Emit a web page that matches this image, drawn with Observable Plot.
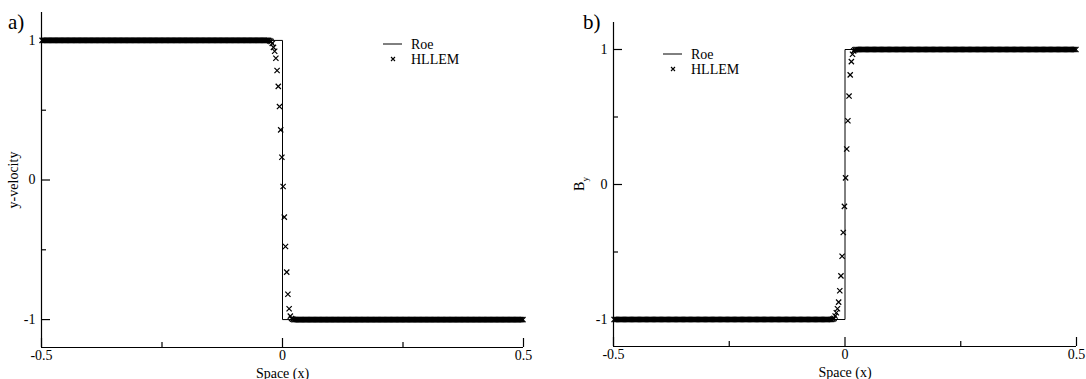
<!DOCTYPE html>
<html><head><meta charset="utf-8">
<script src="https://cdn.jsdelivr.net/npm/d3@7"></script>
<script src="https://cdn.jsdelivr.net/npm/@observablehq/plot@0.6"></script>
<style>
body{margin:0;background:#fff;}
#wrap{position:relative;width:1086px;height:379px;overflow:hidden;background:#fff;}
#wrap svg{position:absolute;top:0;overflow:visible;}
</style></head>
<body><div id="wrap"></div>
<script>
// ---- data ----
const cellCount = 400; // cells on [-0.5, 0.5]
const xTicksMajor = [-0.5, 0, 0.5];
const xTicksMinor = [-0.25, 0.25];
const yTicksMajor = [-1, 0, 1];
const yTicksMinor = [-0.5, 0.5];
const xLabel = "Space (x)";
const seriesNames = ["Roe", "HLLEM"];
const panelTags = ["a)", "b)"];

const roeX = [-0.5, 0, 0, 0.5];
const roeVelocity = [1, 1, -1, -1];
const roeBy = [-1, -1, 1, 1];

// HLLEM cells inside the transition
const transX = [-0.02625, -0.02375, -0.02125, -0.01875, -0.01625, -0.01375, -0.01125, -0.00875, -0.00625, -0.00375,
                -0.00125, 0.00125, 0.00375, 0.00625, 0.00875, 0.01125, 0.01375, 0.01625, 0.01875, 0.02125];
const hllemVelocityTrans = [0.997, 0.992, 0.979, 0.950, 0.922, 0.872, 0.784, 0.671, 0.526, 0.359,
                            0.163, -0.047, -0.266, -0.476, -0.660, -0.819, -0.922, -0.975, -0.992, -0.997];
const hllemByTrans = [-0.997, -0.992, -0.974, -0.950, -0.920, -0.871, -0.787, -0.677, -0.531, -0.356,
                      -0.162, 0.049, 0.263, 0.472, 0.655, 0.812, 0.910, 0.965, 0.990, 0.997];
// plateau values outside the transition
const velocityPlateau = [1, -1];
const byPlateau = [-1, 1];

// ---- build tables ----
const cellX = d3.range(cellCount).map(i => -0.5 + (i + 0.5) / cellCount);
function hllemTable(trans, plateau) {
  return cellX.map(x => {
    const k = transX.findIndex(t => Math.abs(t - x) < 1e-6);
    if (k >= 0) return {x, y: trans[k]};
    return {x, y: x < 0 ? plateau[0] : plateau[1]};
  });
}
const roeTable = ys => roeX.map((x, i) => ({x, y: ys[i]}));
const fmt = d => String(d);
const FONT = "'Liberation Serif','Times New Roman',serif";

function panel({roe, hllem, width, ml, mr, mt, mb, yLabel}) {
  return Plot.plot({
    width, height: 379,
    marginLeft: ml, marginRight: mr, marginTop: mt, marginBottom: mb,
    style: {fontFamily: FONT, fontSize: "14px", color: "#000", background: "transparent", overflow: "visible"},
    x: {domain: [-0.5, 0.5]},
    y: {domain: [-1.2, 1.2]},
    marks: [
      Plot.ruleX([-0.5], {stroke: "#000", strokeWidth: 1.2}),
      Plot.ruleY([-1.2], {stroke: "#000", strokeWidth: 1.2}),
      Plot.axisX(xTicksMajor, {tickSize: -9, tickPadding: 11.5, tickFormat: fmt, label: xLabel, labelAnchor: "center", labelArrow: "none", labelOffset: 30, strokeWidth: 1.2}),
      Plot.axisX(xTicksMinor, {tickSize: -5, tickFormat: () => "", label: null, strokeWidth: 1.2}),
      Plot.axisY(yTicksMajor, {tickSize: -9, tickPadding: 15, tickFormat: fmt, label: yLabel, labelAnchor: "center", labelArrow: "none", labelOffset: 33, strokeWidth: 1.2}),
      Plot.axisY(yTicksMinor, {tickSize: -5, tickFormat: () => "", label: null, strokeWidth: 1.2}),
      Plot.dot(hllem, {x: "x", y: "y", symbol: "times", r: 2.5, stroke: "#000", strokeWidth: 1.2}),
      Plot.line(roe, {x: "x", y: "y", stroke: "#000", strokeWidth: 1})
    ]
  });
}

const wrap = document.getElementById("wrap");

const left = panel({roe: roeTable(roeVelocity), hllem: hllemTable(hllemVelocityTrans, velocityPlateau),
  width: 540, ml: 41, mr: 17, mt: 12, mb: 32, yLabel: "y-velocity"});
left.style.left = "0px";
wrap.appendChild(left);

const right = panel({roe: roeTable(roeBy), hllem: hllemTable(hllemByTrans, byPlateau),
  width: 546, ml: 73, mr: 10, mt: 22, mb: 33, yLabel: null});
right.style.left = "540px";
wrap.appendChild(right);

// y label with subscript for right panel
{
  const t = d3.select(right).append("text")
    .attr("transform", "translate(44,184) rotate(-90)")
    .attr("text-anchor", "middle")
    .attr("font-family", FONT).attr("font-size", 14).attr("fill", "#000");
  t.append("tspan").text("B");
  t.append("tspan").attr("font-size", 9).attr("dy", 4).text("y");
}

// legends and panel tags
function decorate(svg, lx, ly, tag, tx) {
  const s = d3.select(svg);
  const g = s.append("g").attr("font-family", FONT).attr("font-size", 14).attr("fill", "#000").attr("text-anchor", "start");
  g.append("line").attr("x1", lx).attr("x2", lx + 19).attr("y1", ly).attr("y2", ly).attr("stroke", "#000").attr("stroke-width", 1);
  g.append("text").attr("x", lx + 28).attr("y", ly + 5).text(seriesNames[0]);
  const my = ly + 15, mx = lx + 10, r = 2;
  g.append("path").attr("d", `M${mx - r},${my - r}L${mx + r},${my + r}M${mx - r},${my + r}L${mx + r},${my - r}`)
    .attr("stroke", "#000").attr("stroke-width", 1.1).attr("fill", "none");
  g.append("text").attr("x", lx + 28).attr("y", my + 5).text(seriesNames[1]);
  s.append("text").attr("x", tx).attr("y", 29).attr("text-anchor", "start").attr("font-family", FONT).attr("font-size", 21).attr("fill", "#000").text(tag);
}
decorate(left, 383, 44, panelTags[0], 8);
decorate(right, 123, 54, panelTags[1], 43);
</script>
</body></html>
